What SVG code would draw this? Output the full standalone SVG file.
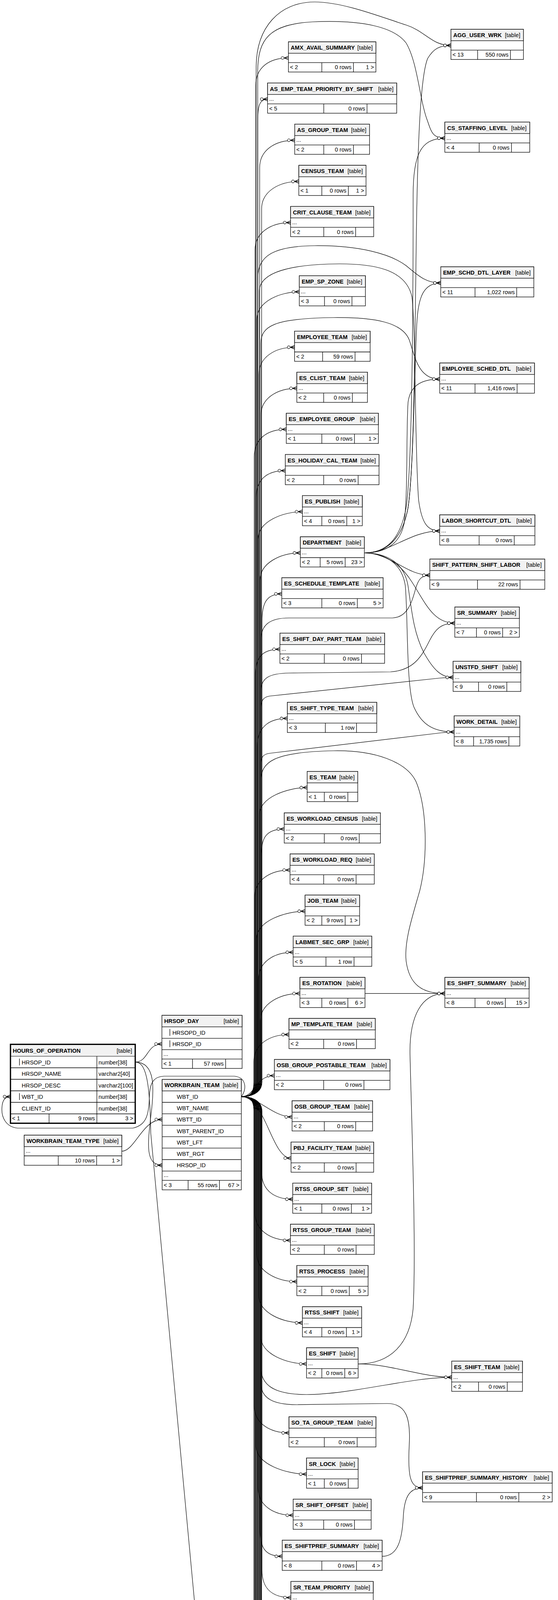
<svg xmlns="http://www.w3.org/2000/svg" width="1429" height="6088" viewBox="0 0 1429 6088">
<style>
text{font-family:"Liberation Sans",Arial,Helvetica,sans-serif;font-size:14.5px;fill:#000}
.t{font-weight:bold}
.r{text-anchor:end}
.b{fill:#fff;stroke:#000;stroke-width:1.3}
.h{fill:#f2f2f2;stroke:#000;stroke-width:1.3}
.l{fill:none;stroke:#000;stroke-width:1.3}
.e{fill:none;stroke:#000;stroke-width:1.2;marker-end:url(#cf)}
.e.z{marker-end:url(#zo)}
</style>
<defs>
<marker id="cf" viewBox="0 0 22 12" refX="21" refY="6" markerWidth="22" markerHeight="12" markerUnits="userSpaceOnUse" orient="auto" overflow="visible">
<path d="M10 6L21 1.5M10 6L21 6M10 6L21 10.5" fill="none" stroke="#000" stroke-width="1.4"/>
<circle cx="6" cy="6" r="3.6" fill="#fff" stroke="#000" stroke-width="1.1"/>
</marker>
<marker id="zo" viewBox="0 0 22 12" refX="21" refY="6" markerWidth="22" markerHeight="12" markerUnits="userSpaceOnUse" orient="auto" overflow="visible">
<path d="M18.5 1V11" fill="none" stroke="#000" stroke-width="2.6"/>
<circle cx="10" cy="6" r="3.6" fill="#fff" stroke="#000" stroke-width="1.1"/>
</marker>
</defs>
<rect width="1429" height="6088" fill="#fff"/>
<g id="connectors">
<!-- WORKBRAIN_TEAM to upper middle tables -->
<path class="e" d="M618,2807.3 C640,2807.3 655,2800 655,2770 L655,218.4 C655,173.4 688.6,148.4 738.6,148.4"/>
<path class="e" d="M618,2807.3 C640,2807.3 660,2800 660,2770 L660,310 C660,270 665,253.8 685.3,253.8"/>
<path class="e" d="M618,2807.3 C640,2807.3 665,2800 665,2770 L665,429.1 C665,384.1 704.7,359.1 754.7,359.1"/>
<path class="e" d="M618,2807.3 C640,2807.3 670,2800 670,2770 L670,534.5 C670,489.5 715.3,464.5 765.3,464.5"/>
<path class="e" d="M618,2807.3 C640,2807.3 653,2800 653,2770 L653,639.8 C653,594.8 694.2,569.8 744.2,569.8"/>
<path class="e" d="M618,2807.3 C640,2807.3 658,2800 658,2770 L658,817.1 C658,772.1 716.5,747.1 766.5,747.1"/>
<path class="e" d="M618,2807.3 C640,2807.3 663,2800 663,2770 L663,959 C663,914 704.4,889 754.4,889"/>
<path class="e" d="M618,2807.3 C640,2807.3 668,2800 668,2770 L668,1064.1 C668,1019.1 710.2,994.1 760.2,994.1"/>
<path class="e" d="M618,2807.3 C640,2807.3 651,2800 651,2770 L651,1169.2 C651,1124.2 683.2,1099.2 733.2,1099.2"/>
<path class="e" d="M618,2807.3 C640,2807.3 656,2800 656,2770 L656,1274.8 C656,1229.8 680.6,1204.8 730.6,1204.8"/>
<path class="e" d="M618,2807.3 C640,2807.3 661,2800 661,2770 L661,1379.9 C661,1334.9 724.5,1309.9 774.5,1309.9"/>
<path class="e" d="M618,2807.3 C640,2807.3 666,2800 666,2770 L666,1485.5 C666,1440.5 719.2,1415.5 769.2,1415.5"/>
<path class="e" d="M618,2807.3 C640,2807.3 671,2800 671,2770 L671,1590.3 C671,1545.3 681.6,1520.3 721.6,1520.3"/>
<path class="e" d="M618,2807.3 C640,2807.3 654,2800 654,2770 L654,1732.1 C654,1687.1 666.8,1662.1 716.8,1662.1"/>
<path class="e" d="M618,2807.3 C640,2807.3 659,2800 659,2770 L659,1909.2 C659,1864.2 685.9,1839.2 735.9,1839.2"/>
<path class="e" d="M618,2807.3 C640,2807.3 664,2800 664,2770 L664,2086.2 C664,2041.2 736.6,2016.2 786.6,2016.2"/>
<path class="e" d="M618,2807.3 C640,2807.3 669,2800 669,2770 L669,2192.3 C669,2147.3 679,2122.3 727.9,2122.3"/>
<path class="e" d="M618,2807.3 C640,2807.3 652,2800 652,2770 L652,2297.4 C652,2252.4 692.7,2227.4 742.7,2227.4"/>
<path class="e" d="M618,2807.3 C640,2807.3 657,2800 657,2770 L657,2402.7 C657,2357.7 731.3,2332.7 781.3,2332.7"/>
<path class="e" d="M618,2807.3 C640,2807.3 662,2800 662,2770 L662,2507.8 C662,2462.8 700.7,2437.8 750.7,2437.8"/>
<path class="e" d="M618,2807.3 C640,2807.3 667,2800 667,2770 L667,2613.4 C667,2568.4 718.1,2543.4 768.1,2543.4"/>
<path class="e" d="M618,2807.3 C640,2807.3 650,2800 650,2770 L650,2718.5 C650,2673.5 690.1,2648.5 740.1,2648.5"/>
<path class="e" d="M618,2807.3 C655,2807.3 652.6,2753.6 702.6,2753.6"/>
<path class="e" d="M618,2807.3 C660,2807.3 698,2859.3 748,2859.3"/>
<path class="e" d="M618,2807.3 C680,2807.3 695,2964.9 745.4,2964.9"/>
<!-- WORKBRAIN_TEAM to lower middle tables -->
<path class="e" d="M618,2807.3 C640,2807.3 670,2815 670,2845 L670,3000 C670,3045 699.6,3070 749.6,3070"/>
<path class="e" d="M618,2807.3 C640,2807.3 653,2815 653,2845 L653,3105.3 C653,3150.3 693.8,3175.3 743.8,3175.3"/>
<path class="e" d="M618,2807.3 C640,2807.3 658,2815 658,2845 L658,3210.9 C658,3255.9 710.2,3280.9 760.2,3280.9"/>
<path class="e" d="M618,2807.3 C640,2807.3 663,2815 663,2845 L663,3316.5 C663,3361.5 724.5,3386.5 774.5,3386.5"/>
<path class="e" d="M618,2807.3 C640,2807.3 668,2815 668,2845 L668,3421.6 C668,3466.6 735,3491.6 785,3491.6"/>
<path class="e" d="M618,2807.3 C640,2807.3 651,2815 651,2845 L651,3598.2 C651,3643.2 690.1,3668.2 740.1,3668.2"/>
<path class="e" d="M618,2807.3 C640,2807.3 656,2815 656,2845 L656,3703.8 C656,3748.8 735,3773.8 785,3773.8"/>
<path class="e" d="M618,2807.3 C640,2807.3 661,2815 661,2845 L661,3809.1 C661,3854.1 700.7,3879.1 750.7,3879.1"/>
<path class="e" d="M618,2807.3 C640,2807.3 666,2815 666,2845 L666,3914.2 C666,3959.2 676,3984.2 722.7,3984.2"/>
<path class="e" d="M618,2807.3 C640,2807.3 671,2815 671,2845 L671,4019.8 C671,4064.8 694.9,4089.8 744.9,4089.8"/>
<path class="e" d="M618,2807.3 C640,2807.3 654,2815 654,2845 L654,4125.4 C654,4170.4 711.3,4195.4 761.3,4195.4"/>
<path class="e" d="M618,2807.3 C640,2807.3 659,2815 659,2845 L659,4230.5 C659,4275.5 702.8,4300.5 752.8,4300.5"/>
<path class="e" d="M618,2807.3 C640,2807.3 664,2815 664,2845 L664,4336.1 C664,4381.1 710.2,4406.1 760.2,4406.1"/>
<path class="e" d="M618,2807.3 C640,2807.3 669,2815 669,2845 L669,4441.2 C669,4486.2 688.5,4511.2 738.5,4511.2"/>
<path class="e" d="M618,2807.3 C640,2807.3 652,2815 652,2845 L652,4546.8 C652,4591.8 719.2,4616.8 769.2,4616.8"/>
<path class="e" d="M618,2807.3 C640,2807.3 657,2815 657,2845 L657,4651.6 C657,4696.6 713.9,4721.6 763.9,4721.6"/>
<path class="e" d="M618,2807.3 C640,2807.3 662,2815 662,2845 L662,4757.2 C662,4802.2 672,4827.2 718.4,4827.2"/>
<path class="e" d="M618,2807.3 C640,2807.3 667,2815 667,2845 L667,4862.8 C667,4907.8 711.3,4932.8 761.3,4932.8"/>
<path class="e" d="M618,2807.3 C640,2807.3 650,2815 650,2845 L650,4967.9 C650,5012.9 698,5037.9 748,5037.9"/>
<path class="e" d="M618,2807.3 C640,2807.3 655,2815 655,2845 L655,5073.5 C655,5118.5 671.6,5143.5 721.6,5143.5"/>
<path class="e" d="M618,2807.3 C640,2807.3 660,2815 660,2845 L660,5214.9 C660,5259.9 692.7,5284.9 742.7,5284.9"/>
<path class="e" d="M618,2807.3 C640,2807.3 665,2815 665,2845 L665,5320 C665,5365 684.8,5390 734.8,5390"/>
<path class="e z" d="M618,2807.3 C640,2807.3 670,2815 670,2845 L670,5425.2 C670,5470.2 680,5495.2 722.7,5495.2"/>
<path class="e z" d="M618,2807.3 C640,2807.3 653,2815 653,2845 L653,5530.5 C653,5575.5 683.2,5600.5 733.2,5600.5"/>
<path class="e" d="M618,2807.3 C640,2807.3 658,2815 658,2845 L658,5635.9 C658,5680.9 683.2,5705.9 733.2,5705.9"/>
<path class="e" d="M618,2807.3 C640,2807.3 663,2815 663,2845 L663,5730 C663,5775 672,5795 690.4,5806"/>
<path class="e" d="M618,2807.3 C640,2807.3 668,2815 668,2845 L668,5846.5 C668,5891.5 680,5916.5 725.3,5916.5"/>
<!-- WORKBRAIN_TEAM to right column -->
<path class="e" d="M618,2807.3 C640,2807.3 656,2800 656,2770 L656,170 C657,70 715,5 806,5 C880,5 980,45 1040,64 C1090,80 1105,116.3 1154.8,116.3"/>
<path class="e" d="M618,2807.3 C640,2807.3 660,2800 660,2770 L660,180 C661,100 690,62 800,56 C930,50 1010,70 1040,110 C1070,160 1075,260 1095,310 C1105,340 1110,353.8 1139.2,353.8"/>
<path class="e" d="M618,2807.3 C640,2807.3 660,2800 660,2770 L660,710 C661,655 700,630 806,629 C920,628 1000,650 1040,680 C1070,705 1090,724.3 1128.7,724.3"/>
<path class="e" d="M618,2807.3 C640,2807.3 664,2800 664,2770 L664,745 C665,705 720,680 841,676 C960,672 1040,690 1055,760 C1065,850 1062,1150 1072,1280 C1080,1340 1095,1359.3 1126.1,1359.3"/>
<path class="e" d="M618,2807.3 C640,2807.3 668,2800 668,2770 L668,880 C668,835 700,815 854,813 C960,812 1030,825 1048,870 C1062,910 1070,970.6 1126.1,970.6"/>
<path class="e" d="M618,2807.3 C640,2807.3 668,2800 668,2770 L668,1640 C668,1600 690,1582 740,1582 L1005,1582 C1045,1580 1055,1540 1065,1505 C1072,1482 1080,1472.6 1100.7,1472.6"/>
<path class="e" d="M618,2807.3 C640,2807.3 668,2800 668,2770 L668,1770 C668,1735 690,1724 740,1723 L1000,1720 C1060,1716 1080,1680 1100,1640 C1115,1610 1130,1595.3 1164.7,1595.3"/>
<path class="e" d="M618,2807.3 C640,2807.3 668,2800 668,2770 L668,1820 C668,1795 672,1785 690,1782 L1125,1736 C1140,1734.5 1150,1734.1 1160.4,1734.1"/>
<path class="e" d="M618,2807.3 C640,2807.3 668,2800 668,2770 L668,1960 C668,1940 672,1931 690,1928.5 L1130,1876 C1145,1874.3 1152,1873.8 1163.1,1873.8"/>
<path class="e" d="M618,2807.3 C640,2807.3 668,2800 668,2770 L668,2000 C668,1950 700,1925 854,1922 C960,1920 1040,1950 1065,2000 C1095,2070 1095,2200 1075,2280 C1055,2350 1035,2410 1040,2460 C1048,2520 1080,2543.4 1139.3,2543.4"/>
<path class="e" d="M618,2807.3 C640,2807.3 668,2815 668,2845 L668,3500 C668,3545 700,3570 785,3570 C900,3570 1050,3525.8 1156.7,3525.8"/>
<path class="e" d="M618,2807.3 C640,2807.3 668,2815 668,2845 L668,3540 C668,3580 700,3596 760,3596 L990,3593 C1040,3592 1052,3630 1048,3700 C1044,3780 1050,3808.9 1082.2,3808.9"/>
<path class="e" d="M618,2807.3 C640,2807.3 668,2815 668,2845 L668,5150 C668,5195 700,5216 760,5216 C850,5215 950,5205 1020,5220 C1075,5240 1080,5330 1085,5410 C1090,5460 1110,5477.6 1147.2,5477.6"/>
<!-- DEPARTMENT children -->
<path class="e" d="M933.1,1415.5 C990,1415.5 1030,1380 1045,1300 C1060,1200 1062,900 1065,700 C1068,400 1075,200 1095,150 C1110,125 1125,116.3 1154.8,116.3"/>
<path class="e" d="M933.1,1415.5 C990,1415.5 1025,1380 1040,1300 C1055,1200 1058,800 1058,500 C1058,400 1075,353.8 1139.2,353.8"/>
<path class="e" d="M933.1,1415.5 C990,1415.5 1030,1380 1045,1300 C1060,1200 1062,900 1068,820 C1072,760 1085,724.3 1128.7,724.3"/>
<path class="e" d="M933.1,1415.5 C990,1415.5 1025,1390 1035,1340 C1045,1260 1040,1100 1045,1030 C1050,990 1075,970.6 1126.1,970.6"/>
<path class="e" d="M933.1,1415.5 C1000,1415.5 1050,1359.3 1126.1,1359.3"/>
<path class="e" d="M933.1,1415.5 C1000,1415.5 1040,1472.6 1100.7,1472.6"/>
<path class="e" d="M933.1,1415.5 C990,1415.5 1030,1450 1055,1490 C1090,1545 1110,1595.3 1164.7,1595.3"/>
<path class="e" d="M933.1,1415.5 C990,1415.5 1035,1440 1045,1500 C1055,1570 1060,1620 1085,1670 C1110,1715 1130,1734.1 1160.4,1734.1"/>
<path class="e" d="M933.1,1415.5 C990,1415.5 1030,1445 1038,1500 C1045,1580 1040,1760 1060,1810 C1080,1855 1110,1873.8 1163.1,1873.8"/>
<!-- other middle to right -->
<path class="e" d="M934.7,2543.4 L1139.3,2543.4"/>
<path class="e" d="M917.2,3491.6 C1000,3491.6 1050,3440 1058,3350 C1066,3200 1055,2900 1050,2700 C1048,2600 1080,2543.4 1139.3,2543.4"/>
<path class="e" d="M917.2,3491.6 C1000,3491.6 1080,3525.8 1156.7,3525.8"/>
<path class="e" d="M978.6,3984.2 C1020,3984.2 1030,3940 1033,3880 C1036,3830 1050,3808.9 1082.2,3808.9"/>
<path class="e" d="M969,5600.5 C1060,5600.5 1070,5477.6 1147.2,5477.6"/>
<path class="e" d="M969,5600.5 C1050,5600.5 1060,5680 1090,5710 C1105,5722 1115,5723.1 1134,5723.1"/>
<!-- left side -->
<path class="e" d="M346.3,2718.8 C380,2718.8 375,2672.6 414.6,2672.6"/>
<path class="e" d="M346.3,2718.8 C400,2718.8 395,2790 386,2860 C378,2930 372,2983 415.3,2983"/>
<path class="e" d="M346.3,2718.8 C372,2718.8 384,2760 386,2900 L672,5962 C690,5995 780,6040 843,6037 C960,6032 1040,5960 1058,5850 C1070,5775 1090,5752.5 1134,5752.5"/>
<path class="e" d="M311.9,2947.2 C345,2947.2 365,2865.9 415.3,2865.9"/>
<path class="e" d="M618,2807.3 C632,2790 632,2758 600,2755 L420,2755 C395,2756 385,2770 383,2800 C381,2850 378,2880 340,2888 L45,2888 C15,2885 3,2860 5,2835 C6,2815 15,2807.3 26.8,2807.3"/>
</g>
<g id="tables">
<g id="amx_avail_summary" transform="translate(738.6,107.1)"><rect class="b" width="224" height="77.3"/><rect class="h" width="224" height="29.3"/><path class="l" d="M0 53.3H224M85.6 53.3V77.3M166.6 53.3V77.3"/><text class="t" x="6" y="20">AMX_AVAIL_SUMMARY</text><text class="r" x="216" y="20">[table]</text><text x="4" y="70">&lt; 2</text><text class="r" x="161.6" y="70">0 rows</text><text class="r" x="219" y="70">1 &gt;</text></g>
<g id="as_emp_team_priority_by_shift" transform="translate(685.3,212.5)"><rect class="b" width="330.6" height="77.3"/><rect class="h" width="330.6" height="29.3"/><path class="l" d="M0 53.3H330.6M143.9 53.3V77.3M254.6 53.3V77.3"/><text class="t" x="6" y="20">AS_EMP_TEAM_PRIORITY_BY_SHIFT</text><text class="r" x="322.6" y="20">[table]</text><text x="4" y="45">...</text><text x="4" y="70">&lt; 5</text><text class="r" x="249.6" y="70">0 rows</text></g>
<g id="as_group_team" transform="translate(754.7,317.8)"><rect class="b" width="191.7" height="77.3"/><rect class="h" width="191.7" height="29.3"/><path class="l" d="M0 53.3H191.7M74.5 53.3V77.3M150.5 53.3V77.3"/><text class="t" x="6" y="20">AS_GROUP_TEAM</text><text class="r" x="183.7" y="20">[table]</text><text x="4" y="45">...</text><text x="4" y="70">&lt; 2</text><text class="r" x="145.5" y="70">0 rows</text></g>
<g id="census_team" transform="translate(765.3,423.2)"><rect class="b" width="172.1" height="77.3"/><rect class="h" width="172.1" height="29.3"/><path class="l" d="M0 53.3H172.1M58.9 53.3V77.3M126.8 53.3V77.3"/><text class="t" x="6" y="20">CENSUS_TEAM</text><text class="r" x="164.1" y="20">[table]</text><text x="4" y="70">&lt; 1</text><text class="r" x="121.8" y="70">0 rows</text><text class="r" x="167.1" y="70">1 &gt;</text></g>
<g id="crit_clause_team" transform="translate(744.2,528.5)"><rect class="b" width="212.8" height="77.3"/><rect class="h" width="212.8" height="29.3"/><path class="l" d="M0 53.3H212.8M85 53.3V77.3M166.5 53.3V77.3"/><text class="t" x="6" y="20">CRIT_CLAUSE_TEAM</text><text class="r" x="204.8" y="20">[table]</text><text x="4" y="45">...</text><text x="4" y="70">&lt; 2</text><text class="r" x="161.5" y="70">0 rows</text></g>
<g id="emp_sp_zone" transform="translate(766.5,705.8)"><rect class="b" width="169.2" height="77.3"/><rect class="h" width="169.2" height="29.3"/><path class="l" d="M0 53.3H169.2M64.5 53.3V77.3M134.9 53.3V77.3"/><text class="t" x="6" y="20">EMP_SP_ZONE</text><text class="r" x="161.2" y="20">[table]</text><text x="4" y="45">...</text><text x="4" y="70">&lt; 3</text><text class="r" x="129.9" y="70">0 rows</text></g>
<g id="employee_team" transform="translate(754.4,847.7)"><rect class="b" width="193.5" height="77.3"/><rect class="h" width="193.5" height="29.3"/><path class="l" d="M0 53.3H193.5M71.9 53.3V77.3M154.9 53.3V77.3"/><text class="t" x="6" y="20">EMPLOYEE_TEAM</text><text class="r" x="185.5" y="20">[table]</text><text x="4" y="70">&lt; 2</text><text class="r" x="149.9" y="70">59 rows</text></g>
<g id="es_clist_team" transform="translate(760.2,952.8)"><rect class="b" width="180.8" height="77.3"/><rect class="h" width="180.8" height="29.3"/><path class="l" d="M0 53.3H180.8M68.7 53.3V77.3M142.2 53.3V77.3"/><text class="t" x="6" y="20">ES_CLIST_TEAM</text><text class="r" x="172.8" y="20">[table]</text><text x="4" y="45">...</text><text x="4" y="70">&lt; 2</text><text class="r" x="137.2" y="70">0 rows</text></g>
<g id="es_employee_group" transform="translate(733.2,1057.9)"><rect class="b" width="235.8" height="77.3"/><rect class="h" width="235.8" height="29.3"/><path class="l" d="M0 53.3H235.8M91 53.3V77.3M174.5 53.3V77.3"/><text class="t" x="6" y="20">ES_EMPLOYEE_GROUP</text><text class="r" x="227.8" y="20">[table]</text><text x="4" y="45">...</text><text x="4" y="70">&lt; 1</text><text class="r" x="169.5" y="70">0 rows</text><text class="r" x="230.8" y="70">1 &gt;</text></g>
<g id="es_holiday_cal_team" transform="translate(730.6,1163.5)"><rect class="b" width="240" height="77.3"/><rect class="h" width="240" height="29.3"/><path class="l" d="M0 53.3H240M98.3 53.3V77.3M186.6 53.3V77.3"/><text class="t" x="6" y="20">ES_HOLIDAY_CAL_TEAM</text><text class="r" x="232" y="20">[table]</text><text x="4" y="70">&lt; 2</text><text class="r" x="181.6" y="70">0 rows</text></g>
<g id="es_publish" transform="translate(774.5,1268.6)"><rect class="b" width="153.3" height="77.3"/><rect class="h" width="153.3" height="29.3"/><path class="l" d="M0 53.3H153.3M49.7 53.3V77.3M113.6 53.3V77.3"/><text class="t" x="6" y="20">ES_PUBLISH</text><text class="r" x="145.3" y="20">[table]</text><text x="4" y="45">...</text><text x="4" y="70">&lt; 4</text><text class="r" x="108.6" y="70">0 rows</text><text class="r" x="148.3" y="70">1 &gt;</text></g>
<g id="department" transform="translate(769.2,1374.2)"><rect class="b" width="163.9" height="77.3"/><rect class="h" width="163.9" height="29.3"/><path class="l" d="M0 53.3H163.9M50.7 53.3V77.3M114.7 53.3V77.3"/><text class="t" x="6" y="20">DEPARTMENT</text><text class="r" x="155.9" y="20">[table]</text><text x="4" y="45">...</text><text x="4" y="70">&lt; 2</text><text class="r" x="109.7" y="70">5 rows</text><text class="r" x="158.9" y="70">23 &gt;</text></g>
<g id="es_schedule_template" transform="translate(721.6,1479)"><rect class="b" width="259.6" height="77.3"/><rect class="h" width="259.6" height="29.3"/><path class="l" d="M0 53.3H259.6M102.6 53.3V77.3M193.5 53.3V77.3"/><text class="t" x="6" y="20">ES_SCHEDULE_TEMPLATE</text><text class="r" x="251.6" y="20">[table]</text><text x="4" y="70">&lt; 3</text><text class="r" x="188.5" y="70">0 rows</text><text class="r" x="254.6" y="70">5 &gt;</text></g>
<g id="es_shift_day_part_team" transform="translate(716.8,1620.8)"><rect class="b" width="268.1" height="77.3"/><rect class="h" width="268.1" height="29.3"/><path class="l" d="M0 53.3H268.1M113.7 53.3V77.3M208.9 53.3V77.3"/><text class="t" x="6" y="20">ES_SHIFT_DAY_PART_TEAM</text><text class="r" x="260.1" y="20">[table]</text><text x="4" y="45">...</text><text x="4" y="70">&lt; 2</text><text class="r" x="203.9" y="70">0 rows</text></g>
<g id="es_shift_type_team" transform="translate(735.9,1797.9)"><rect class="b" width="228.9" height="77.3"/><rect class="h" width="228.9" height="29.3"/><path class="l" d="M0 53.3H228.9M97.3 53.3V77.3M177.1 53.3V77.3"/><text class="t" x="6" y="20">ES_SHIFT_TYPE_TEAM</text><text class="r" x="220.9" y="20">[table]</text><text x="4" y="45">...</text><text x="4" y="70">&lt; 3</text><text class="r" x="172.1" y="70">1 row</text></g>
<g id="es_team" transform="translate(786.6,1974.9)"><rect class="b" width="129.6" height="77.3"/><rect class="h" width="129.6" height="29.3"/><path class="l" d="M0 53.3H129.6M43.9 53.3V77.3M104.2 53.3V77.3"/><text class="t" x="6" y="20">ES_TEAM</text><text class="r" x="121.6" y="20">[table]</text><text x="4" y="70">&lt; 1</text><text class="r" x="99.2" y="70">0 rows</text></g>
<g id="es_workload_census" transform="translate(727.9,2081)"><rect class="b" width="246.4" height="77.3"/><rect class="h" width="246.4" height="29.3"/><path class="l" d="M0 53.3H246.4M102.6 53.3V77.3M192 53.3V77.3"/><text class="t" x="6" y="20">ES_WORKLOAD_CENSUS</text><text class="r" x="238.4" y="20">[table]</text><text x="4" y="45">...</text><text x="4" y="70">&lt; 2</text><text class="r" x="187" y="70">0 rows</text></g>
<g id="es_workload_req" transform="translate(742.7,2186.1)"><rect class="b" width="215.8" height="77.3"/><rect class="h" width="215.8" height="29.3"/><path class="l" d="M0 53.3H215.8M86.2 53.3V77.3M169.2 53.3V77.3"/><text class="t" x="6" y="20">ES_WORKLOAD_REQ</text><text class="r" x="207.8" y="20">[table]</text><text x="4" y="45">...</text><text x="4" y="70">&lt; 4</text><text class="r" x="164.2" y="70">0 rows</text></g>
<g id="job_team" transform="translate(781.3,2291.4)"><rect class="b" width="139.6" height="77.3"/><rect class="h" width="139.6" height="29.3"/><path class="l" d="M0 53.3H139.6M42.9 53.3V77.3M102.6 53.3V77.3"/><text class="t" x="6" y="20">JOB_TEAM</text><text class="r" x="131.6" y="20">[table]</text><text x="4" y="70">&lt; 2</text><text class="r" x="97.6" y="70">9 rows</text><text class="r" x="134.6" y="70">1 &gt;</text></g>
<g id="labmet_sec_grp" transform="translate(750.7,2396.5)"><rect class="b" width="201.4" height="77.3"/><rect class="h" width="201.4" height="29.3"/><path class="l" d="M0 53.3H201.4M84 53.3V77.3M155.9 53.3V77.3"/><text class="t" x="6" y="20">LABMET_SEC_GRP</text><text class="r" x="193.4" y="20">[table]</text><text x="4" y="45">...</text><text x="4" y="70">&lt; 5</text><text class="r" x="150.9" y="70">1 row</text></g>
<g id="es_rotation" transform="translate(768.1,2502.1)"><rect class="b" width="166.6" height="77.3"/><rect class="h" width="166.6" height="29.3"/><path class="l" d="M0 53.3H166.6M56.1 53.3V77.3M122.7 53.3V77.3"/><text class="t" x="6" y="20">ES_ROTATION</text><text class="r" x="158.6" y="20">[table]</text><text x="4" y="45">...</text><text x="4" y="70">&lt; 3</text><text class="r" x="117.7" y="70">0 rows</text><text class="r" x="161.6" y="70">6 &gt;</text></g>
<g id="mp_template_team" transform="translate(740.1,2607.2)"><rect class="b" width="221" height="77.3"/><rect class="h" width="221" height="29.3"/><path class="l" d="M0 53.3H221M88.8 53.3V77.3M172.9 53.3V77.3"/><text class="t" x="6" y="20">MP_TEMPLATE_TEAM</text><text class="r" x="213" y="20">[table]</text><text x="4" y="70">&lt; 2</text><text class="r" x="167.9" y="70">0 rows</text></g>
<g id="osb_group_postable_team" transform="translate(702.6,2712.3)"><rect class="b" width="296" height="77.3"/><rect class="h" width="296" height="29.3"/><path class="l" d="M0 53.3H296M126.3 53.3V77.3M229.4 53.3V77.3"/><text class="t" x="6" y="20">OSB_GROUP_POSTABLE_TEAM</text><text class="r" x="288" y="20">[table]</text><text x="4" y="45">...</text><text x="4" y="70">&lt; 2</text><text class="r" x="224.4" y="70">0 rows</text></g>
<g id="osb_group_team" transform="translate(748,2818)"><rect class="b" width="206.2" height="77.3"/><rect class="h" width="206.2" height="29.3"/><path class="l" d="M0 53.3H206.2M82.5 53.3V77.3M162.9 53.3V77.3"/><text class="t" x="6" y="20">OSB_GROUP_TEAM</text><text class="r" x="198.2" y="20">[table]</text><text x="4" y="45">...</text><text x="4" y="70">&lt; 2</text><text class="r" x="157.9" y="70">0 rows</text></g>
<g id="pbj_facility_team" transform="translate(745.4,2923.6)"><rect class="b" width="211.5" height="77.3"/><rect class="h" width="211.5" height="29.3"/><path class="l" d="M0 53.3H211.5M85.1 53.3V77.3M166.5 53.3V77.3"/><text class="t" x="6" y="20">PBJ_FACILITY_TEAM</text><text class="r" x="203.5" y="20">[table]</text><text x="4" y="70">&lt; 2</text><text class="r" x="161.5" y="70">0 rows</text></g>
<g id="rtss_group_set" transform="translate(749.6,3028.7)"><rect class="b" width="202" height="77.3"/><rect class="h" width="202" height="29.3"/><path class="l" d="M0 53.3H202M74.6 53.3V77.3M150.2 53.3V77.3"/><text class="t" x="6" y="20">RTSS_GROUP_SET</text><text class="r" x="194" y="20">[table]</text><text x="4" y="45">...</text><text x="4" y="70">&lt; 1</text><text class="r" x="145.2" y="70">0 rows</text><text class="r" x="197" y="70">1 &gt;</text></g>
<g id="rtss_group_team" transform="translate(743.8,3134)"><rect class="b" width="214.7" height="77.3"/><rect class="h" width="214.7" height="29.3"/><path class="l" d="M0 53.3H214.7M86.7 53.3V77.3M168.1 53.3V77.3"/><text class="t" x="6" y="20">RTSS_GROUP_TEAM</text><text class="r" x="206.7" y="20">[table]</text><text x="4" y="45">...</text><text x="4" y="70">&lt; 2</text><text class="r" x="163.1" y="70">0 rows</text></g>
<g id="rtss_process" transform="translate(760.2,3239.6)"><rect class="b" width="182.4" height="77.3"/><rect class="h" width="182.4" height="29.3"/><path class="l" d="M0 53.3H182.4M64 53.3V77.3M134.3 53.3V77.3"/><text class="t" x="6" y="20">RTSS_PROCESS</text><text class="r" x="174.4" y="20">[table]</text><text x="4" y="70">&lt; 2</text><text class="r" x="129.3" y="70">0 rows</text><text class="r" x="177.4" y="70">5 &gt;</text></g>
<g id="rtss_shift" transform="translate(774.5,3345.2)"><rect class="b" width="151.7" height="77.3"/><rect class="h" width="151.7" height="29.3"/><path class="l" d="M0 53.3H151.7M49.7 53.3V77.3M112.6 53.3V77.3"/><text class="t" x="6" y="20">RTSS_SHIFT</text><text class="r" x="143.7" y="20">[table]</text><text x="4" y="45">...</text><text x="4" y="70">&lt; 4</text><text class="r" x="107.6" y="70">0 rows</text><text class="r" x="146.7" y="70">1 &gt;</text></g>
<g id="es_shift" transform="translate(785,3450.3)"><rect class="b" width="132.2" height="77.3"/><rect class="h" width="132.2" height="29.3"/><path class="l" d="M0 53.3H132.2M39.2 53.3V77.3M97.9 53.3V77.3"/><text class="t" x="6" y="20">ES_SHIFT</text><text class="r" x="124.2" y="20">[table]</text><text x="4" y="45">...</text><text x="4" y="70">&lt; 2</text><text class="r" x="92.9" y="70">0 rows</text><text class="r" x="127.2" y="70">6 &gt;</text></g>
<g id="so_ta_group_team" transform="translate(740.1,3626.9)"><rect class="b" width="222.6" height="77.3"/><rect class="h" width="222.6" height="29.3"/><path class="l" d="M0 53.3H222.6M90.4 53.3V77.3M174.5 53.3V77.3"/><text class="t" x="6" y="20">SO_TA_GROUP_TEAM</text><text class="r" x="214.6" y="20">[table]</text><text x="4" y="70">&lt; 2</text><text class="r" x="169.5" y="70">0 rows</text></g>
<g id="sr_lock" transform="translate(785,3732.5)"><rect class="b" width="132.2" height="77.3"/><rect class="h" width="132.2" height="29.3"/><path class="l" d="M0 53.3H132.2M45.5 53.3V77.3M106.8 53.3V77.3"/><text class="t" x="6" y="20">SR_LOCK</text><text class="r" x="124.2" y="20">[table]</text><text x="4" y="45">...</text><text x="4" y="70">&lt; 1</text><text class="r" x="101.8" y="70">0 rows</text></g>
<g id="sr_shift_offset" transform="translate(750.7,3837.8)"><rect class="b" width="199.8" height="77.3"/><rect class="h" width="199.8" height="29.3"/><path class="l" d="M0 53.3H199.8M78.2 53.3V77.3M157 53.3V77.3"/><text class="t" x="6" y="20">SR_SHIFT_OFFSET</text><text class="r" x="191.8" y="20">[table]</text><text x="4" y="45">...</text><text x="4" y="70">&lt; 3</text><text class="r" x="152" y="70">0 rows</text></g>
<g id="es_shiftpref_summary" transform="translate(722.7,3942.9)"><rect class="b" width="255.9" height="77.3"/><rect class="h" width="255.9" height="29.3"/><path class="l" d="M0 53.3H255.9M101.5 53.3V77.3M190.3 53.3V77.3"/><text class="t" x="6" y="20">ES_SHIFTPREF_SUMMARY</text><text class="r" x="247.9" y="20">[table]</text><text x="4" y="70">&lt; 8</text><text class="r" x="185.3" y="70">0 rows</text><text class="r" x="250.9" y="70">4 &gt;</text></g>
<g id="sr_team_priority" transform="translate(744.9,4048.5)"><rect class="b" width="210.9" height="77.3"/><rect class="h" width="210.9" height="29.3"/><path class="l" d="M0 53.3H210.9M84 53.3V77.3M166 53.3V77.3"/><text class="t" x="6" y="20">SR_TEAM_PRIORITY</text><text class="r" x="202.9" y="20">[table]</text><text x="4" y="45">...</text><text x="4" y="70">&lt; 2</text><text class="r" x="161" y="70">0 rows</text></g>
<g id="st_skill_team" transform="translate(761.3,4154.1)"><rect class="b" width="180.2" height="77.3"/><rect class="h" width="180.2" height="29.3"/><path class="l" d="M0 53.3H180.2M73.4 53.3V77.3M140.1 53.3V77.3"/><text class="t" x="6" y="20">ST_SKILL_TEAM</text><text class="r" x="172.2" y="20">[table]</text><text x="4" y="45">...</text><text x="4" y="70">&lt; 2</text><text class="r" x="135.1" y="70">1 row</text></g>
<g id="st_wbt_course" transform="translate(752.8,4259.2)"><rect class="b" width="195.1" height="77.3"/><rect class="h" width="195.1" height="29.3"/><path class="l" d="M0 53.3H195.1M76.1 53.3V77.3M153.8 53.3V77.3"/><text class="t" x="6" y="20">ST_WBT_COURSE</text><text class="r" x="187.1" y="20">[table]</text><text x="4" y="70">&lt; 2</text><text class="r" x="148.8" y="70">0 rows</text></g>
<g id="target_detail" transform="translate(760.2,4364.8)"><rect class="b" width="182.4" height="77.3"/><rect class="h" width="182.4" height="29.3"/><path class="l" d="M0 53.3H182.4M64 53.3V77.3M134.3 53.3V77.3"/><text class="t" x="6" y="20">TARGET_DETAIL</text><text class="r" x="174.4" y="20">[table]</text><text x="4" y="45">...</text><text x="4" y="70">&lt; 3</text><text class="r" x="129.3" y="70">0 rows</text><text class="r" x="177.4" y="70">2 &gt;</text></g>
<g id="team_day_part_set" transform="translate(738.5,4469.9)"><rect class="b" width="225.2" height="77.3"/><rect class="h" width="225.2" height="29.3"/><path class="l" d="M0 53.3H225.2M96.2 53.3V77.3M174.5 53.3V77.3"/><text class="t" x="6" y="20">TEAM_DAY_PART_SET</text><text class="r" x="217.2" y="20">[table]</text><text x="4" y="45">...</text><text x="4" y="70">&lt; 2</text><text class="r" x="169.5" y="70">1 row</text></g>
<g id="team_range" transform="translate(769.2,4575.5)"><rect class="b" width="162.8" height="77.3"/><rect class="h" width="162.8" height="29.3"/><path class="l" d="M0 53.3H162.8M59.7 53.3V77.3M129.5 53.3V77.3"/><text class="t" x="6" y="20">TEAM_RANGE</text><text class="r" x="154.8" y="20">[table]</text><text x="4" y="70">&lt; 3</text><text class="r" x="124.5" y="70">2 rows</text></g>
<g id="team_schprd" transform="translate(763.9,4680.3)"><rect class="b" width="172.9" height="77.3"/><rect class="h" width="172.9" height="29.3"/><path class="l" d="M0 53.3H172.9M69.3 53.3V77.3M134.8 53.3V77.3"/><text class="t" x="6" y="20">TEAM_SCHPRD</text><text class="r" x="164.9" y="20">[table]</text><text x="4" y="45">...</text><text x="4" y="70">&lt; 2</text><text class="r" x="129.8" y="70">1 row</text></g>
<g id="tm_actitem_assignment" transform="translate(718.4,4785.9)"><rect class="b" width="265.4" height="77.3"/><rect class="h" width="265.4" height="29.3"/><path class="l" d="M0 53.3H265.4M105.8 53.3V77.3M197.8 53.3V77.3"/><text class="t" x="6" y="20">TM_ACTITEM_ASSIGNMENT</text><text class="r" x="257.4" y="20">[table]</text><text x="4" y="45">...</text><text x="4" y="70">&lt; 2</text><text class="r" x="192.8" y="70">0 rows</text><text class="r" x="260.4" y="70">2 &gt;</text></g>
<g id="tm_task_team" transform="translate(761.3,4891.5)"><rect class="b" width="179.7" height="77.3"/><rect class="h" width="179.7" height="29.3"/><path class="l" d="M0 53.3H179.7M69.2 53.3V77.3M142.7 53.3V77.3"/><text class="t" x="6" y="20">TM_TASK_TEAM</text><text class="r" x="171.7" y="20">[table]</text><text x="4" y="70">&lt; 3</text><text class="r" x="137.7" y="70">0 rows</text></g>
<g id="tm_tgroup_team" transform="translate(748,4996.6)"><rect class="b" width="206.2" height="77.3"/><rect class="h" width="206.2" height="29.3"/><path class="l" d="M0 53.3H206.2M82.5 53.3V77.3M162.9 53.3V77.3"/><text class="t" x="6" y="20">TM_TGROUP_TEAM</text><text class="r" x="198.2" y="20">[table]</text><text x="4" y="45">...</text><text x="4" y="70">&lt; 2</text><text class="r" x="157.9" y="70">0 rows</text></g>
<g id="unit_of_service_detail" transform="translate(721.6,5102.2)"><rect class="b" width="258.5" height="77.3"/><rect class="h" width="258.5" height="29.3"/><path class="l" d="M0 53.3H258.5M107.3 53.3V77.3M200.9 53.3V77.3"/><text class="t" x="6" y="20">UNIT_OF_SERVICE_DETAIL</text><text class="r" x="250.5" y="20">[table]</text><text x="4" y="45">...</text><text x="4" y="70">&lt; 2</text><text class="r" x="195.9" y="70">0 rows</text></g>
<g id="wb_team_message" transform="translate(742.7,5243.6)"><rect class="b" width="215.8" height="77.3"/><rect class="h" width="215.8" height="29.3"/><path class="l" d="M0 53.3H215.8M86.2 53.3V77.3M169.2 53.3V77.3"/><text class="t" x="6" y="20">WB_TEAM_MESSAGE</text><text class="r" x="207.8" y="20">[table]</text><text x="4" y="70">&lt; 1</text><text class="r" x="164.2" y="70">0 rows</text></g>
<g id="wbi_flat_user_team" transform="translate(734.8,5348.7)"><rect class="b" width="231.6" height="77.3"/><rect class="h" width="231.6" height="29.3"/><path class="l" d="M0 53.3H231.6M94.1 53.3V77.3M181.4 53.3V77.3"/><text class="t" x="6" y="20">WBI_FLAT_USER_TEAM</text><text class="r" x="223.6" y="20">[table]</text><text x="4" y="45">...</text><text x="4" y="70">&lt; 2</text><text class="r" x="176.4" y="70">2 rows</text></g>
<g id="wbi_team_schprd_date" transform="translate(722.7,5453.9)"><rect class="b" width="257.4" height="77.3"/><rect class="h" width="257.4" height="29.3"/><path class="l" d="M0 53.3H257.4M107.8 53.3V77.3M199.8 53.3V77.3"/><text class="t" x="6" y="20">WBI_TEAM_SCHPRD_DATE</text><text class="r" x="249.4" y="20">[table]</text><text x="4" y="45">...</text><text x="4" y="70">&lt; 1</text><text class="r" x="194.8" y="70">0 rows</text></g>
<g id="so_schedule_group" transform="translate(733.2,5559.2)"><rect class="b" width="235.8" height="77.3"/><rect class="h" width="235.8" height="29.3"/><path class="l" d="M0 53.3H235.8M82.5 53.3V77.3M170.8 53.3V77.3"/><text class="t" x="6" y="20">SO_SCHEDULE_GROUP</text><text class="r" x="227.8" y="20">[table]</text><text x="4" y="70">&lt; 8</text><text class="r" x="165.8" y="70">51 rows</text><text class="r" x="230.8" y="70">59 &gt;</text></g>
<g id="work_detail_adjust" transform="translate(733.2,5664.6)"><rect class="b" width="234.8" height="77.3"/><rect class="h" width="234.8" height="29.3"/><path class="l" d="M0 53.3H234.8M92 53.3V77.3M185.1 53.3V77.3"/><text class="t" x="6" y="20">WORK_DETAIL_ADJUST</text><text class="r" x="226.8" y="20">[table]</text><text x="4" y="45">...</text><text x="4" y="70">&lt; 4</text><text class="r" x="180.1" y="70">92 rows</text></g>
<g id="workbrain_user_list_member" transform="translate(690.4,5769.9)"><rect class="b" width="319.9" height="77.3"/><rect class="h" width="319.9" height="29.3"/><path class="l" d="M0 53.3H319.9M138.5 53.3V77.3M246.9 53.3V77.3"/><text class="t" x="6" y="20">WORKBRAIN_USER_LIST_MEMBER</text><text class="r" x="311.9" y="20">[table]</text><text x="4" y="45">...</text><text x="4" y="70">&lt; 4</text><text class="r" x="241.9" y="70">0 rows</text></g>
<g id="workbrain_user_team" transform="translate(725.3,5875.2)"><rect class="b" width="251.7" height="77.3"/><rect class="h" width="251.7" height="29.3"/><path class="l" d="M0 53.3H251.7M101 53.3V77.3M198.3 53.3V77.3"/><text class="t" x="6" y="20">WORKBRAIN_USER_TEAM</text><text class="r" x="243.7" y="20">[table]</text><text x="4" y="70">&lt; 4</text><text class="r" x="193.3" y="70">12 rows</text></g>
<!-- right column -->
<g id="agg_user_wrk" transform="translate(1154.8,75)"><rect class="b" width="185.7" height="77.3"/><rect class="h" width="185.7" height="29.3"/><path class="l" d="M0 53.3H185.7M68.4 53.3V77.3M152.4 53.3V77.3"/><text class="t" x="6" y="20">AGG_USER_WRK</text><text class="r" x="177.7" y="20">[table]</text><text x="4" y="70">&lt; 13</text><text class="r" x="147.4" y="70">550 rows</text></g>
<g id="cs_staffing_level" transform="translate(1139.2,312.5)"><rect class="b" width="217.4" height="77.3"/><rect class="h" width="217.4" height="29.3"/><path class="l" d="M0 53.3H217.4M88 53.3V77.3M170.6 53.3V77.3"/><text class="t" x="6" y="20">CS_STAFFING_LEVEL</text><text class="r" x="209.4" y="20">[table]</text><text x="4" y="45">...</text><text x="4" y="70">&lt; 4</text><text class="r" x="165.6" y="70">0 rows</text></g>
<g id="emp_schd_dtl_layer" transform="translate(1128.7,683)"><rect class="b" width="238.4" height="77.3"/><rect class="h" width="238.4" height="29.3"/><path class="l" d="M0 53.3H238.4M87.8 53.3V77.3M194.6 53.3V77.3"/><text class="t" x="6" y="20">EMP_SCHD_DTL_LAYER</text><text class="r" x="230.4" y="20">[table]</text><text x="4" y="70">&lt; 11</text><text class="r" x="189.6" y="70">1,022 rows</text></g>
<g id="employee_sched_dtl" transform="translate(1126.1,929.3)"><rect class="b" width="242.6" height="77.3"/><rect class="h" width="242.6" height="29.3"/><path class="l" d="M0 53.3H242.6M90.4 53.3V77.3M198.2 53.3V77.3"/><text class="t" x="6" y="20">EMPLOYEE_SCHED_DTL</text><text class="r" x="234.6" y="20">[table]</text><text x="4" y="45">...</text><text x="4" y="70">&lt; 11</text><text class="r" x="193.2" y="70">1,416 rows</text></g>
<g id="labor_shortcut_dtl" transform="translate(1126.1,1318)"><rect class="b" width="243.7" height="77.3"/><rect class="h" width="243.7" height="29.3"/><path class="l" d="M0 53.3H243.7M100.9 53.3V77.3M190.8 53.3V77.3"/><text class="t" x="6" y="20">LABOR_SHORTCUT_DTL</text><text class="r" x="235.7" y="20">[table]</text><text x="4" y="45">...</text><text x="4" y="70">&lt; 8</text><text class="r" x="185.8" y="70">0 rows</text></g>
<g id="shift_pattern_shift_labor" transform="translate(1100.7,1431.3)"><rect class="b" width="294.5" height="77.3"/><rect class="h" width="294.5" height="29.3"/><path class="l" d="M0 53.3H294.5M122.1 53.3V77.3M231 53.3V77.3"/><text class="t" x="6" y="20">SHIFT_PATTERN_SHIFT_LABOR</text><text class="r" x="286.5" y="20">[table]</text><text x="4" y="70">&lt; 9</text><text class="r" x="226" y="70">22 rows</text></g>
<g id="sr_summary" transform="translate(1164.7,1554)"><rect class="b" width="165.4" height="77.3"/><rect class="h" width="165.4" height="29.3"/><path class="l" d="M0 53.3H165.4M55.5 53.3V77.3M122.6 53.3V77.3"/><text class="t" x="6" y="20">SR_SUMMARY</text><text class="r" x="157.4" y="20">[table]</text><text x="4" y="45">...</text><text x="4" y="70">&lt; 7</text><text class="r" x="117.6" y="70">0 rows</text><text class="r" x="160.4" y="70">2 &gt;</text></g>
<g id="unstfd_shift" transform="translate(1160.4,1692.8)"><rect class="b" width="173.4" height="77.3"/><rect class="h" width="173.4" height="29.3"/><path class="l" d="M0 53.3H173.4M65.1 53.3V77.3M137.5 53.3V77.3"/><text class="t" x="6" y="20">UNSTFD_SHIFT</text><text class="r" x="165.4" y="20">[table]</text><text x="4" y="45">...</text><text x="4" y="70">&lt; 9</text><text class="r" x="132.5" y="70">0 rows</text></g>
<g id="work_detail" transform="translate(1163.1,1832.5)"><rect class="b" width="168.1" height="77.3"/><rect class="h" width="168.1" height="29.3"/><path class="l" d="M0 53.3H168.1M49.7 53.3V77.3M140.1 53.3V77.3"/><text class="t" x="6" y="20">WORK_DETAIL</text><text class="r" x="160.1" y="20">[table]</text><text x="4" y="45">...</text><text x="4" y="70">&lt; 8</text><text class="r" x="135.1" y="70">1,735 rows</text></g>
<g id="es_shift_summary" transform="translate(1139.3,2502.1)"><rect class="b" width="215.7" height="77.3"/><rect class="h" width="215.7" height="29.3"/><path class="l" d="M0 53.3H215.7M77.2 53.3V77.3M154.9 53.3V77.3"/><text class="t" x="6" y="20">ES_SHIFT_SUMMARY</text><text class="r" x="207.7" y="20">[table]</text><text x="4" y="45">...</text><text x="4" y="70">&lt; 8</text><text class="r" x="149.9" y="70">0 rows</text><text class="r" x="210.7" y="70">15 &gt;</text></g>
<g id="es_shift_team" transform="translate(1156.7,3484.5)"><rect class="b" width="181.3" height="77.3"/><rect class="h" width="181.3" height="29.3"/><path class="l" d="M0 53.3H181.3M68.8 53.3V77.3M142.3 53.3V77.3"/><text class="t" x="6" y="20">ES_SHIFT_TEAM</text><text class="r" x="173.3" y="20">[table]</text><text x="4" y="45">...</text><text x="4" y="70">&lt; 2</text><text class="r" x="137.3" y="70">0 rows</text></g>
<g id="es_shiftpref_summary_history" transform="translate(1082.2,3767.6)"><rect class="b" width="332" height="77.3"/><rect class="h" width="332" height="29.3"/><path class="l" d="M0 53.3H332M138 53.3V77.3M246.4 53.3V77.3"/><text class="t" x="6" y="20">ES_SHIFTPREF_SUMMARY_HISTORY</text><text class="r" x="324" y="20">[table]</text><text x="4" y="70">&lt; 9</text><text class="r" x="241.4" y="70">0 rows</text><text class="r" x="327" y="70">2 &gt;</text></g>
<g id="so_event_detail" transform="translate(1147.2,5436.3)"><rect class="b" width="199.8" height="77.3"/><rect class="h" width="199.8" height="29.3"/><path class="l" d="M0 53.3H199.8M73 53.3V77.3M148.6 53.3V77.3"/><text class="t" x="6" y="20">SO_EVENT_DETAIL</text><text class="r" x="191.8" y="20">[table]</text><text x="4" y="45">...</text><text x="4" y="70">&lt; 7</text><text class="r" x="143.6" y="70">6 rows</text><text class="r" x="194.8" y="70">1 &gt;</text></g>
<g id="so_corp_ent_hour" transform="translate(1134,5649.9)"><rect class="b" width="227.9" height="199.7"/><rect class="h" width="227.9" height="29.3"/><path class="l" d="M0 58.6H227.9M0 87.9H227.9M0 117.2H227.9M0 146.5H227.9M0 175.8H227.9M93.6 175.8V199.7M178.7 175.8V199.7M21 35V52M21 64.3V81.3M21 93.6V110.6"/><text class="t" x="6" y="20">SO_CORP_ENT_HOUR</text><text class="r" x="219.9" y="20">[table]</text><text x="27.5" y="49.3">CORPENTHR_ID</text><text x="27.5" y="78.6">SKDGRP_ID</text><text x="27.5" y="107.9">HRSOP_ID</text><text x="27.5" y="137.2">CORPENTHR_FROMDATE</text><text x="27.5" y="166.5">CORPENTHR_TODATE</text><text x="4" y="192.4">&lt; 2</text><text class="r" x="173.7" y="192.4">9 rows</text></g>
<!-- left -->
<g id="hours_of_operation" transform="translate(26.8,2673.5)"><rect class="b" width="319.5" height="202" style="stroke-width:1"/><rect class="h" width="319.5" height="30.5" style="stroke-width:1"/><path class="l" d="M0 60H319.5M0 89.5H319.5M0 119H319.5M0 148.5H319.5M0 178H319.5M221.3 30.5V178M98.8 178V202M221.3 178V202M23 36.5V54M23 125V142.5"/><rect width="319.5" height="202" fill="none" stroke="#000" stroke-width="3.2"/><text class="t" x="6" y="21">HOURS_OF_OPERATION</text><text class="r" x="311.5" y="21">[table]</text><text x="28.7" y="51">HRSOP_ID</text><text x="225.5" y="51">number[38]</text><text x="28.7" y="80.5">HRSOP_NAME</text><text x="225.5" y="80.5">varchar2[40]</text><text x="28.7" y="110">HRSOP_DESC</text><text x="225.5" y="110">varchar2[100]</text><text x="28.7" y="139.5">WBT_ID</text><text x="225.5" y="139.5">number[38]</text><text x="28.7" y="169">CLIENT_ID</text><text x="225.5" y="169">number[38]</text><text x="4" y="194.7">&lt; 1</text><text class="r" x="216.3" y="194.7">9 rows</text><text class="r" x="314.5" y="194.7">3 &gt;</text></g>
<g id="hrsop_day" transform="translate(414.6,2599.3)"><rect class="b" width="205.4" height="135.9"/><rect class="h" width="205.4" height="29.4"/><path class="l" d="M0 58.8H205.4M0 87.8H205.4M0 111.9H205.4M78.4 111.9V135.9M163.2 111.9V135.9M20.4 35V52.5M20.4 64V81.5"/><text class="t" x="6" y="20">HRSOP_DAY</text><text class="r" x="197.4" y="20">[table]</text><text x="26.8" y="49.5">HRSOPD_ID</text><text x="26.8" y="78.5">HRSOP_ID</text><text x="4" y="104">...</text><text x="4" y="128.6">&lt; 1</text><text class="r" x="158.2" y="128.6">57 rows</text></g>
<g id="workbrain_team" transform="translate(415.3,2763.4)"><rect class="b" width="202.7" height="282.6"/><rect class="h" width="202.7" height="29.3"/><path class="l" d="M0 58.6H202.7M0 87.9H202.7M0 117.2H202.7M0 146.5H202.7M0 175.8H202.7M0 205.1H202.7M0 234.4H202.7M0 258.3H202.7M66.4 258.3V282.6M146.7 258.3V282.6"/><text class="t" x="6" y="20">WORKBRAIN_TEAM</text><text class="r" x="194.7" y="20">[table]</text><text x="37.4" y="49.3">WBT_ID</text><text x="37.4" y="78.6">WBT_NAME</text><text x="37.4" y="107.9">WBTT_ID</text><text x="37.4" y="137.2">WBT_PARENT_ID</text><text x="37.4" y="166.5">WBT_LFT</text><text x="37.4" y="195.8">WBT_RGT</text><text x="37.4" y="225.1">HRSOP_ID</text><text x="4" y="250">...</text><text x="4" y="275.3">&lt; 3</text><text class="r" x="141.7" y="275.3">55 rows</text><text class="r" x="197.7" y="275.3">67 &gt;</text></g>
<g id="workbrain_team_type" transform="translate(61.9,2906)"><rect class="b" width="250" height="77.1"/><rect class="h" width="250" height="29.4"/><path class="l" d="M0 53H250M87.3 53V77.1M185.6 53V77.1"/><text class="t" x="6" y="20">WORKBRAIN_TEAM_TYPE</text><text class="r" x="242" y="20">[table]</text><text x="4" y="45">...</text><text class="r" x="180.6" y="69.8">10 rows</text><text class="r" x="245" y="69.8">1 &gt;</text></g>
</g>
<text x="16.5" y="6070">Generated by SchemaSpy</text>
</svg>
